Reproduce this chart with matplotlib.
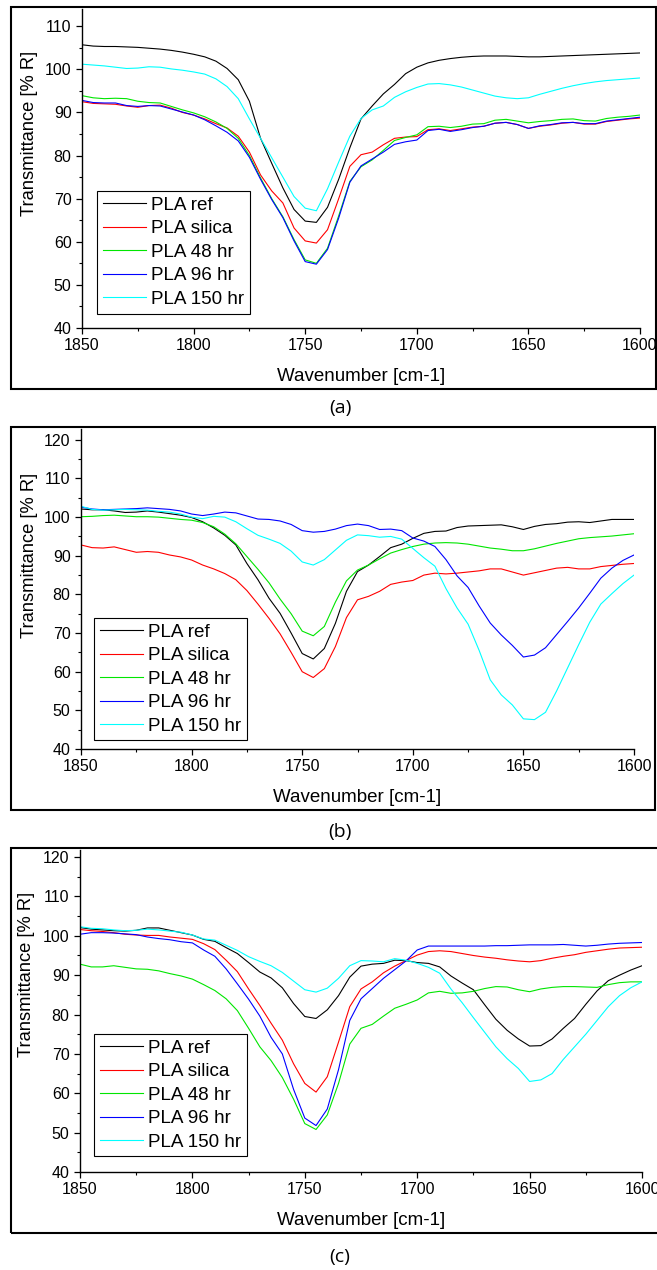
import numpy as np
import matplotlib.pyplot as plt
from matplotlib.patches import Rectangle
from matplotlib.ticker import MultipleLocator

plt.rcParams['font.family'] = ['Liberation Sans', 'DejaVu Sans']

# Wavenumber grid shared by all panels (cm-1)
wn = np.arange(1850, 1599, -5)

labels = ['PLA ref', 'PLA silica', 'PLA 48 hr', 'PLA 96 hr', 'PLA 150 hr']
colors = ['#000000', '#ff0000', '#00e600', '#0000ff', '#00ffff']

# ---- panel (a)
a_ref = [105.7, 105.4, 105.3, 105.3, 105.2, 105.1, 104.9, 104.7, 104.4, 104.0,
         103.5, 102.9, 101.9, 100.2, 97.6, 92.6, 84.0, 78.2, 72.5, 67.5,
         64.8, 64.5, 68.0, 74.5, 81.8, 88.5, 91.5, 94.3, 96.5, 99.0,
         100.5, 101.5, 102.1, 102.5, 102.8, 103.0, 103.1, 103.1, 103.1, 103.0,
         102.9, 102.9, 103.0, 103.1, 103.2, 103.3, 103.4, 103.5, 103.6, 103.7,
         103.8]
a_silica = [92.5, 92.1, 92.0, 91.9, 91.5, 91.2, 91.6, 91.7, 91.0, 90.0,
            89.4, 88.5, 87.4, 86.4, 84.5, 80.8, 75.5, 71.8, 69.0, 63.2,
            60.2, 59.7, 62.8, 70.0, 77.5, 80.2, 80.8, 82.5, 84.0, 84.3,
            84.4, 86.0, 86.2, 85.8, 86.2, 86.6, 86.8, 87.5, 87.7, 87.2,
            86.3, 86.8, 87.1, 87.5, 87.7, 87.3, 87.3, 87.9, 88.2, 88.5,
            88.7]
a_48 = [93.9, 93.4, 93.2, 93.3, 93.2, 92.6, 92.3, 92.2, 91.4, 90.6,
        89.9, 89.0, 87.8, 86.3, 84.0, 80.0, 74.8, 70.0, 65.8, 60.5,
        55.8, 55.0, 58.5, 66.0, 74.0, 77.4, 79.0, 81.2, 83.5, 84.2,
        84.8, 86.7, 86.8, 86.5, 86.8, 87.3, 87.4, 88.2, 88.4, 88.0,
        87.6, 87.9, 88.1, 88.4, 88.5, 88.1, 88.0, 88.6, 88.9, 89.1,
        89.4]
a_96 = [92.8, 92.3, 92.2, 92.2, 91.6, 91.4, 91.6, 91.5, 90.8, 90.1,
        89.4, 88.3, 86.9, 85.4, 83.4, 79.6, 74.5, 69.8, 65.6, 60.2,
        55.4, 54.8, 58.2, 65.5, 73.8, 77.6, 79.2, 80.8, 82.6, 83.2,
        83.6, 85.8, 86.1, 85.6, 86.0, 86.5, 86.8, 87.5, 87.7, 87.2,
        86.3, 86.9, 87.2, 87.6, 87.7, 87.4, 87.4, 88.0, 88.3, 88.6,
        88.9]
a_150 = [101.2, 101.0, 100.8, 100.5, 100.2, 100.3, 100.6, 100.5, 100.1, 99.8,
         99.4, 98.9, 97.8, 96.0, 93.2, 88.5, 84.0, 79.5, 75.0, 70.5,
         67.8, 67.2, 72.3, 78.5, 84.5, 88.6, 90.6, 91.5, 93.5, 94.8,
         95.8, 96.6, 96.7, 96.4, 95.9, 95.2, 94.5, 93.8, 93.4, 93.2,
         93.4, 94.2, 94.9, 95.6, 96.2, 96.7, 97.1, 97.4, 97.6, 97.8,
         98.0]

# ---- panel (b)
b_ref = [102.1, 101.9, 101.9, 101.6, 101.2, 101.3, 101.6, 101.3, 100.9, 100.5,
         99.9, 98.8, 97.2, 95.3, 92.8, 88.0, 83.8, 79.0, 75.1, 70.0,
         64.7, 63.3, 66.0, 72.5, 80.8, 85.9, 87.6, 89.8, 92.1, 93.0,
         94.5, 95.8, 96.3, 96.4, 97.3, 97.7, 97.8, 97.9, 98.0, 97.5,
         96.8, 97.6, 98.1, 98.3, 98.7, 98.8, 98.6, 99.0, 99.4, 99.4,
         99.4]
b_silica = [92.8, 92.1, 92.0, 92.3, 91.6, 90.9, 91.1, 90.9, 90.2, 89.7,
            88.9, 87.6, 86.6, 85.4, 83.8, 81.0, 77.5, 73.8, 69.8, 65.0,
            60.0, 58.5, 60.8, 66.5, 74.0, 78.6, 79.5, 80.8, 82.6, 83.2,
            83.6, 85.0, 85.5, 85.3, 85.5, 85.8, 86.1, 86.6, 86.6, 85.8,
            85.0, 85.6, 86.2, 86.8, 87.0, 86.6, 86.6, 87.2, 87.5, 87.8,
            88.0]
b_48 = [100.1, 100.2, 100.4, 100.5, 100.3, 100.1, 100.1, 100.0, 99.7, 99.4,
        99.2, 98.6, 97.5, 95.6, 93.1, 89.8, 86.5, 83.0, 78.8, 75.0,
        70.5, 69.3, 71.7, 78.0, 83.5, 86.3, 87.6, 89.2, 90.7, 91.6,
        92.4, 93.0, 93.3, 93.4, 93.3, 93.0, 92.5, 92.0, 91.7, 91.3,
        91.3, 91.8, 92.5, 93.2, 93.8, 94.4, 94.7, 94.9, 95.1, 95.4,
        95.7]
b_96 = [102.6, 102.1, 101.9, 102.0, 102.1, 102.2, 102.4, 102.2, 102.0, 101.6,
        100.8, 100.4, 100.8, 101.3, 101.1, 100.3, 99.5, 99.4, 99.0, 98.1,
        96.5, 96.1, 96.3, 96.9, 97.8, 98.2, 97.8, 96.8, 96.9, 96.5,
        94.6, 93.8, 92.4, 89.0, 84.8, 81.8, 77.0, 72.6, 69.5, 66.8,
        63.8, 64.3, 66.2, 69.6, 73.0, 76.5, 80.3, 84.2, 86.8, 88.8,
        90.2]
b_150 = [102.8, 102.0, 101.8, 101.9, 102.0, 101.9, 101.8, 101.5, 101.3, 100.8,
         100.0, 99.6, 100.2, 100.0, 98.8, 97.0, 95.3, 94.3, 93.2, 91.2,
         88.4, 87.6, 89.0, 91.5, 94.0, 95.4, 95.2, 94.8, 95.0, 94.3,
         91.9, 89.5, 87.3, 81.5, 76.5, 72.3, 65.5, 57.9, 54.0, 51.4,
         47.8, 47.6, 49.5, 55.0, 61.0, 67.0, 72.8, 77.5, 80.2, 82.8,
         85.0]

# ---- panel (c)
c_ref = [102.1, 101.7, 101.5, 101.3, 101.2, 101.4, 102.0, 102.0, 101.4, 100.8,
         100.2, 99.1, 98.6, 97.0, 95.5, 93.2, 90.8, 89.3, 86.8, 82.8,
         79.5, 79.0, 81.2, 84.8, 89.5, 92.3, 92.8, 93.0, 93.8, 93.7,
         93.2, 93.0, 92.1, 89.8, 88.0, 86.3, 82.5, 78.8, 76.0, 73.8,
         72.0, 72.1, 73.8, 76.5, 79.0, 82.6, 86.0, 88.6, 90.0, 91.3,
         92.4]
c_silica = [101.6, 101.3, 101.1, 100.8, 100.4, 100.2, 100.1, 100.1, 99.7, 99.4,
            99.1, 98.0, 96.5, 93.8, 90.9, 86.5, 82.3, 77.8, 73.5, 67.5,
            62.5, 60.3, 64.2, 73.0, 82.0, 86.5, 88.3, 90.6, 92.3, 93.7,
            95.1, 96.0, 96.2, 96.0, 95.5, 95.0, 94.6, 94.3, 93.9, 93.6,
            93.4, 93.7, 94.3, 94.8, 95.2, 95.8, 96.2, 96.6, 96.9, 97.0,
            97.1]
c_48 = [92.8, 92.1, 92.1, 92.4, 92.0, 91.6, 91.5, 91.1, 90.4, 89.8,
        89.0, 87.6, 86.1, 84.0, 81.0, 76.5, 71.8, 68.3, 64.0, 58.5,
        52.3, 50.8, 54.5, 62.5, 72.5, 76.5, 77.5, 79.6, 81.6, 82.6,
        83.7, 85.5, 85.9, 85.4, 85.5, 85.9, 86.6, 87.1, 87.0, 86.3,
        85.8, 86.5, 86.9, 87.1, 87.1, 87.0, 86.9, 87.6, 88.1, 88.3,
        88.3]
c_96 = [100.4, 100.8, 100.8, 100.7, 100.5, 100.3, 99.7, 99.3, 99.0, 98.5,
        98.2, 96.4, 94.8, 91.6, 87.8, 83.9, 79.6, 74.2, 70.0, 61.0,
        53.7, 51.8, 56.0, 66.0, 78.5, 84.0, 86.6, 89.2, 91.4, 93.6,
        96.4, 97.4, 97.4, 97.4, 97.4, 97.4, 97.4, 97.5, 97.5, 97.6,
        97.7, 97.7, 97.7, 97.8, 97.6, 97.4, 97.6, 97.9, 98.1, 98.2,
        98.3]
c_150 = [102.3, 101.9, 101.8, 101.5, 101.3, 101.4, 101.7, 101.5, 101.2, 100.9,
         100.2, 99.2, 98.9, 97.6, 96.3, 94.7, 93.5, 92.4, 90.7, 88.5,
         86.3, 85.7, 86.7, 89.2, 92.4, 93.7, 93.6, 93.4, 94.2, 93.8,
         93.0, 92.0, 90.5, 86.5, 83.0, 79.2, 75.5, 71.8, 68.8, 66.3,
         63.0, 63.4, 65.0, 68.6, 71.8, 75.0, 78.5, 82.0, 84.8, 86.8,
         88.3]

W, H = 657, 1270
fig = plt.figure(figsize=(W / 100, H / 100), dpi=100)

# pixel boxes: axes (left, right, top, bottom), y top limit, frame (l, r, t, b), caption y, legend anchor
panels = [
    dict(data=[a_ref, a_silica, a_48, a_96, a_150], ax=(82, 640, 9, 328), ytop=114,
         frame=(11, 656, 7, 389), cap='(a)', capy=408, leg=(0.027, 0.429),
         ylab=(-0.079, 0.611)),
    dict(data=[b_ref, b_silica, b_48, b_96, b_150], ax=(81, 634, 429, 749), ytop=122.8,
         frame=(11, 655, 427, 810), cap='(b)', capy=832, leg=(0.0235, 0.409),
         ylab=(-0.078, 0.606)),
    dict(data=[c_ref, c_silica, c_48, c_96, c_150], ax=(80, 642, 850, 1172), ytop=121.8,
         frame=(11, 658, 848, 1233), cap='(c)', capy=1257, leg=(0.025, 0.4286),
         ylab=(-0.080, 0.612)),
]

for p in panels:
    l, r, t, b = p['ax']
    ax = fig.add_axes([l / W, 1 - b / H, (r - l) / W, (b - t) / H])
    for vals, lab, col in zip(p['data'], labels, colors):
        ax.plot(wn, vals, color=col, lw=0.8, label=lab)
    ax.set_xlim(1850, 1600)
    ax.set_ylim(40, p['ytop'])
    ax.xaxis.set_major_locator(MultipleLocator(50))
    ax.xaxis.set_minor_locator(MultipleLocator(25))
    ax.yaxis.set_major_locator(MultipleLocator(10))
    ax.yaxis.set_minor_locator(MultipleLocator(5))
    ax.spines['top'].set_visible(False)
    ax.spines['right'].set_visible(False)
    ax.spines['left'].set_linewidth(1.0)
    ax.spines['bottom'].set_linewidth(1.0)
    ax.tick_params(which='major', direction='out', length=4.5, width=0.9, labelsize=11.5, pad=3)
    ax.tick_params(which='minor', direction='out', length=2.5, width=0.8)
    ax.set_xlabel('Wavenumber [cm-1]', fontsize=13.5)
    ax.set_ylabel('Transmittance [% R]', fontsize=13.2)
    ax.xaxis.set_label_coords(0.5, -0.125)
    ax.yaxis.set_label_coords(*p['ylab'])
    leg = ax.legend(loc='upper left', bbox_to_anchor=p['leg'], borderaxespad=0,
                    fontsize=13.6, handlelength=2.3, handletextpad=0.25,
                    labelspacing=0.33, borderpad=0.3, fancybox=False,
                    framealpha=1, edgecolor='black')
    leg.get_frame().set_linewidth(0.8)

    fl, fr, ft, fb = p['frame']
    fig.patches.append(Rectangle((fl / W, 1 - fb / H), (fr - fl) / W, (fb - ft) / H,
                                 transform=fig.transFigure, fill=False,
                                 edgecolor='black', lw=1.5))
    fig.text(340 / W, 1 - p['capy'] / H, p['cap'], ha='center', va='center',
             fontsize=14, family=['Open Sans', 'DejaVu Sans'])

fig.savefig('out.png', dpi=100)
